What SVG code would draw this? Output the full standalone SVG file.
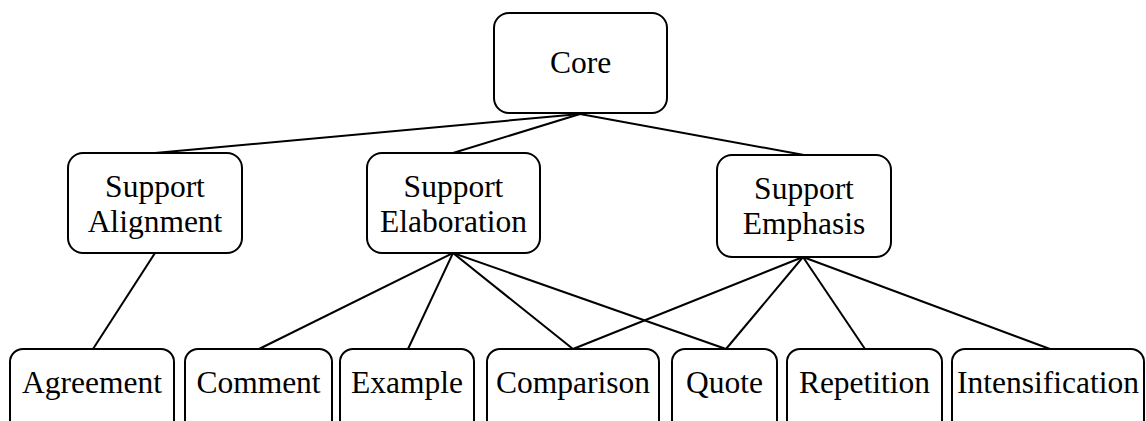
<svg xmlns="http://www.w3.org/2000/svg" width="1146" height="421" viewBox="0 0 1146 421">
<style>
.box{fill:#fff;stroke:#000;stroke-width:2}
.lbl{font-family:"Liberation Serif","Times New Roman",serif;font-size:31.5px;fill:#000;text-anchor:middle}
.edge{stroke:#000;stroke-width:2;fill:none}
</style>
<rect width="1146" height="421" fill="#fff"/>
<g id="connectors">
<line class="edge" x1="580" y1="114" x2="155" y2="153"/>
<line class="edge" x1="580" y1="114" x2="453" y2="153"/>
<line class="edge" x1="580" y1="114" x2="804" y2="155"/>
<line class="edge" x1="155" y1="253" x2="93" y2="349"/>
<line class="edge" x1="453" y1="253" x2="259" y2="349"/>
<line class="edge" x1="453" y1="253" x2="408" y2="349"/>
<line class="edge" x1="453" y1="253" x2="573" y2="349"/>
<line class="edge" x1="453" y1="253" x2="726" y2="349"/>
<line class="edge" x1="803" y1="257" x2="573" y2="349"/>
<line class="edge" x1="803" y1="257" x2="726" y2="349"/>
<line class="edge" x1="803" y1="257" x2="865" y2="349"/>
<line class="edge" x1="803" y1="257" x2="1050" y2="349"/>
</g>
<g id="core">
<rect class="box" x="494" y="13" width="173" height="100" rx="15"/>
<text class="lbl" x="580.5" y="73">Core</text>
</g>
<g id="support-alignment">
<rect class="box" x="68" y="153" width="174" height="100" rx="15"/>
<text class="lbl" x="155" y="197">Support</text>
<text class="lbl" x="155" y="232">Alignment</text>
</g>
<g id="support-elaboration">
<rect class="box" x="367" y="153" width="173" height="100" rx="15"/>
<text class="lbl" x="453.5" y="197">Support</text>
<text class="lbl" x="453.5" y="232">Elaboration</text>
</g>
<g id="support-emphasis">
<rect class="box" x="717" y="155" width="174" height="102" rx="15"/>
<text class="lbl" x="804" y="199">Support</text>
<text class="lbl" x="804" y="234">Emphasis</text>
</g>
<g id="agreement">
<rect class="box" x="10" y="349" width="164" height="100" rx="13"/>
<text class="lbl" x="92" y="393">Agreement</text>
</g>
<g id="comment">
<rect class="box" x="185" y="349" width="147" height="100" rx="13"/>
<text class="lbl" x="258.5" y="393">Comment</text>
</g>
<g id="example">
<rect class="box" x="340" y="349" width="134" height="100" rx="13"/>
<text class="lbl" x="407" y="393">Example</text>
</g>
<g id="comparison">
<rect class="box" x="487" y="349" width="172" height="100" rx="13"/>
<text class="lbl" x="573" y="393">Comparison</text>
</g>
<g id="quote">
<rect class="box" x="672" y="349" width="105" height="100" rx="13"/>
<text class="lbl" x="724.5" y="393">Quote</text>
</g>
<g id="repetition">
<rect class="box" x="787" y="349" width="155" height="100" rx="13"/>
<text class="lbl" x="864.5" y="393">Repetition</text>
</g>
<g id="intensification">
<rect class="box" x="952" y="349" width="192" height="100" rx="13"/>
<text class="lbl" x="1048" y="393">Intensification</text>
</g>
</svg>
